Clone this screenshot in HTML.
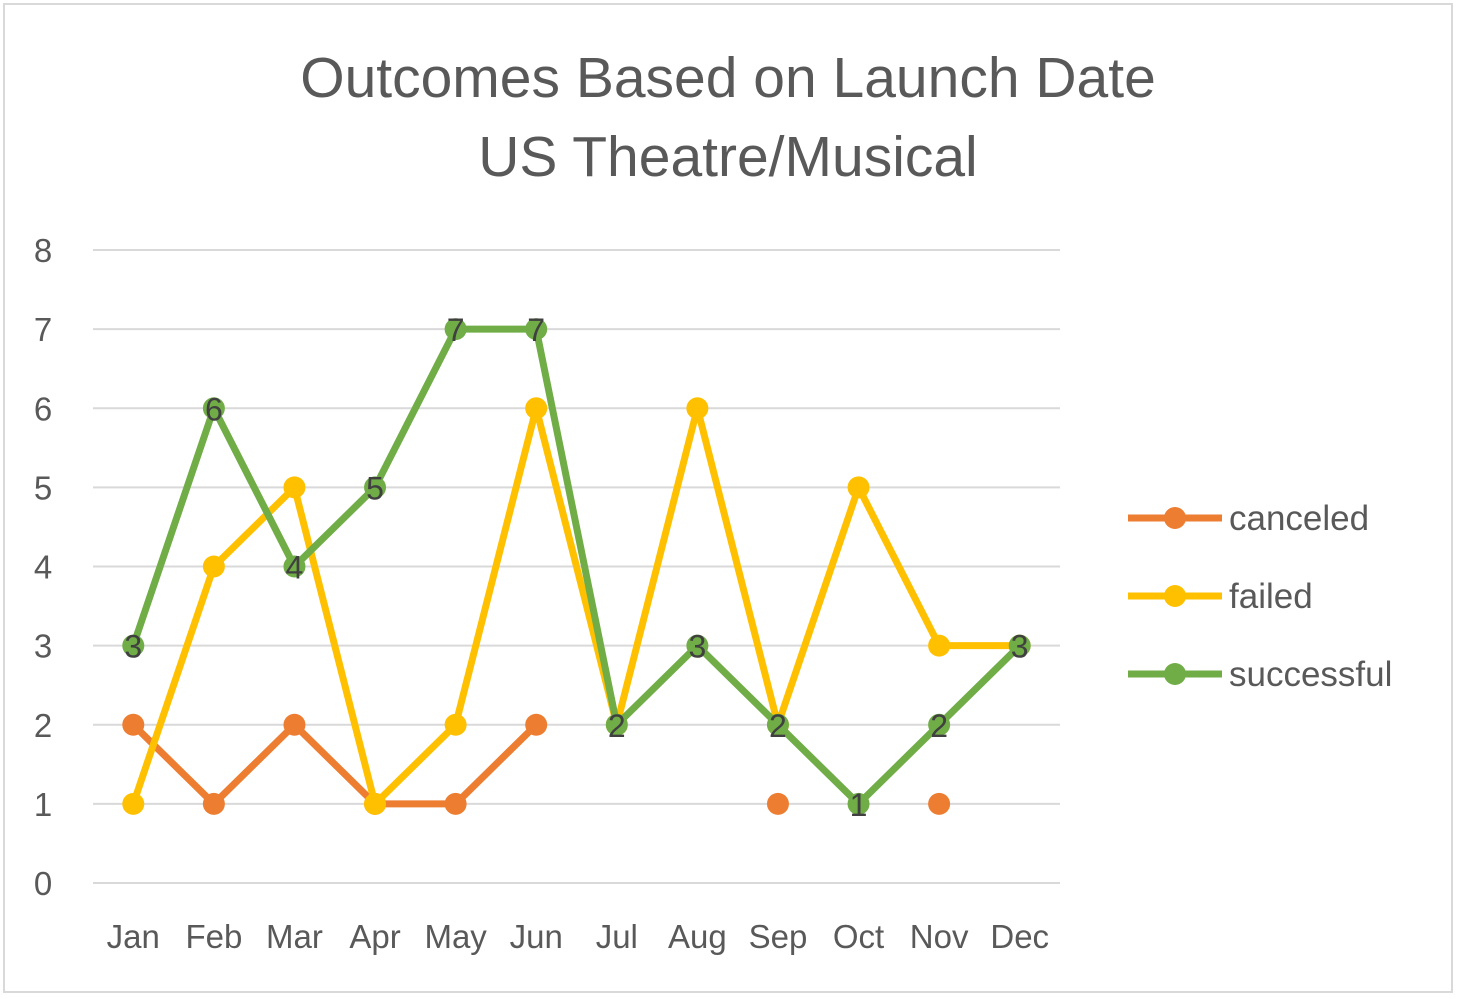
<!DOCTYPE html>
<html><head><meta charset="utf-8"><style>
html,body{margin:0;padding:0;background:#fff;}
svg{display:block;font-family:"Liberation Sans",sans-serif;}
</style></head><body>
<svg id="chart" width="1457" height="999">
<rect x="4" y="4" width="1448" height="988" fill="#fff" stroke="#d9d9d9" stroke-width="2"/>
<text x="728" y="97" text-anchor="middle" font-size="57" fill="#595959">Outcomes Based on Launch Date</text>
<text x="728" y="176" text-anchor="middle" font-size="57" fill="#595959">US Theatre/Musical</text>
<g id="grid"></g><g id="series"></g><g id="legend"></g>
</svg>
<script>
const categories=["Jan","Feb","Mar","Apr","May","Jun","Jul","Aug","Sep","Oct","Nov","Dec"];
const canceled=[2,1,2,1,1,2,null,null,1,null,1,null];
const failed=[1,4,5,1,2,6,2,6,2,5,3,3];
const successful=[3,6,4,5,7,7,2,3,2,1,2,3];
const yTicks=[0,1,2,3,4,5,6,7,8];
const NS="http://www.w3.org/2000/svg";
const x0=93,x1=1060,yb=883,yt=250,ymax=8;
const xs=i=>x0+(x1-x0)/categories.length*(i+0.5);
const ys=v=>yb-(yb-yt)*v/ymax;
function mk(tag,attrs,parent,txt){const e=document.createElementNS(NS,tag);for(const k in attrs)e.setAttribute(k,attrs[k]);if(txt!=null)e.textContent=txt;parent.appendChild(e);return e;}
const grid=document.getElementById('grid');
yTicks.forEach(t=>{
 const l=mk('line',{x1:x0,x2:x1,y1:ys(t),y2:ys(t),stroke:'#d9d9d9','stroke-width':2},grid);
 
 
 const tx=mk('text',{x:43,y:ys(t)+12,'text-anchor':'middle','font-size':33,fill:'#595959'},grid,t);
 
 
});
categories.forEach((c,i)=>{
 const tx=mk('text',{x:xs(i),y:948,'text-anchor':'middle','font-size':33,fill:'#595959'},grid,c);
 
 
});
const sg=document.getElementById('series');
function drawSeries(name,vals,color,labels){
 const g=mk('g',{},sg);
 
 
 let seg=[];
 const flush=()=>{if(seg.length>1){const p=mk('polyline',{points:seg.join(' '),fill:'none',stroke:color,'stroke-width':7,'stroke-linejoin':'round'},g);}seg=[];};
 vals.forEach((v,i)=>{if(v==null){flush();}else seg.push(xs(i)+','+ys(v));});
 flush();
 vals.forEach((v,i)=>{if(v==null)return;
  const c=mk('circle',{cx:xs(i),cy:ys(v),r:11,fill:color},g);
  
  
  if(labels){const t=mk('text',{x:xs(i),y:ys(v)+12,'text-anchor':'middle','font-size':32,fill:'#404040'},g,v);
   
   }
 });
}
drawSeries('canceled',canceled,'#ed7d31',false);
drawSeries('failed',failed,'#ffc000',false);
drawSeries('successful',successful,'#70ad47',true);
const lg=document.getElementById('legend');
[['canceled','#ed7d31',518],['failed','#ffc000',596],['successful','#70ad47',674]].forEach(([n,c,y])=>{
 const g=mk('g',{},lg);
 
 
 mk('line',{x1:1128,x2:1222,y1:y,y2:y,stroke:c,'stroke-width':7},g);
 mk('circle',{cx:1175,cy:y,r:11,fill:c},g);
 mk('text',{x:1229,y:y+12,'font-size':35,fill:'#595959'},g,n);
});
</script>
</body></html>
